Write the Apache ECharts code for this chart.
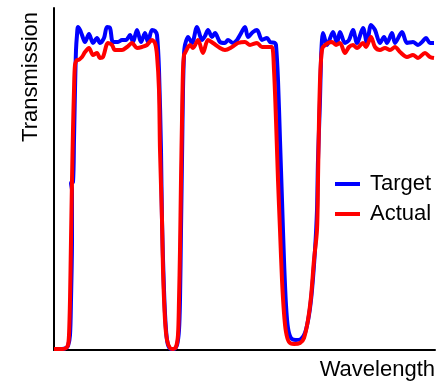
<!DOCTYPE html>
<html>
<head>
<meta charset="utf-8">
<script src="https://cdn.jsdelivr.net/npm/echarts@6/dist/echarts.min.js"></script>
<style>html,body{margin:0;padding:0;background:#fff}#c{width:443px;height:383px}</style>
</head>
<body>
<div id="c"></div>
<script>
// Wavelength / transmission in arbitrary units
var targetWavelength = [0,8,12,14,16,17,18,18,17,19,20,21,22,23,24,26,28,31,35,39,43,46,50,53,56,59,64,68,72,76,79,83,87,91,94,98,101,
  103,105,107,108,110,112,114,117,120,123,125,126,127,128,129,130,131,
  134,138,143,148,151,154,158,161,166,171,174,179,183,186,191,194,199,203,208,213,216,221,
  222,224,226,228,230,232,234,237,242,247,251,255,258,261,263,264,266,267,268,
  269,273,279,283,286,291,295,299,303,309,313,317,321,326,330,333,338,341,348,353,359,364,368,372,376,380];
var targetTransmission = [1,1,2,4,15,50,110,160,167,168,210,260,300,315,323,320,315,308,316,307,312,307,312,323,322,308,308,310,310,315,308,320,308,317,308,320,319,
  315,280,200,130,60,20,5,1,1,5,20,50,120,190,260,295,305,
  313,307,323,310,314,320,313,317,308,307,310,307,310,315,323,313,318,320,310,312,308,307,
  305,270,210,150,90,45,22,12,10,11,17,35,60,100,140,190,250,290,310,
  317,305,318,307,318,307,310,320,307,322,307,325,320,307,313,307,317,307,318,307,308,305,308,312,307,307];

var actualWavelength = [0,9,12,14,15,16,17,18,19,20,21,23,24,28,31,35,39,43,46,49,54,58,61,68,73,78,83,88,93,98,101,
  103,105,106,108,109,111,113,116,119,122,124,125,126,127,128,129,130,131,
  136,139,144,149,154,159,166,171,178,184,191,196,203,208,215,218,
  220,222,224,226,228,230,232,235,240,246,250,254,257,260,263,264,265,266,267,268,269,
  274,278,282,286,291,295,299,303,309,312,317,321,326,331,336,341,346,353,359,364,371,376,380];
var actualTransmission = [1,1,2,5,15,50,110,170,220,260,285,290,290,293,298,302,295,297,292,293,307,305,300,300,303,307,302,303,305,310,307,
  295,260,200,130,80,30,10,2,1,3,15,50,100,170,230,280,295,297,
  305,302,310,297,310,307,302,300,303,307,308,305,307,303,303,303,
  280,230,170,120,70,37,18,8,6,7,12,30,53,90,120,170,230,270,290,300,303,
  307,308,305,307,297,303,305,302,307,303,313,303,300,302,300,303,298,293,295,292,297,293,292];

var seriesNames = ['Target', 'Actual'];

function pairs(xs, ys) { return xs.map(function (x, i) { return [x, ys[i]]; }); }

var chart = echarts.init(document.getElementById('c'), null, {renderer: 'canvas'});
var FONT = '"Liberation Sans", Arial, sans-serif';
chart.setOption({
  animation: false,
  grid: {left: 54, right: 8, top: 8, bottom: 33},
  xAxis: {
    type: 'value', min: 0, max: 381,
    axisLine: {show: true, onZero: false, lineStyle: {color: '#000', width: 2}},
    axisTick: {show: false}, axisLabel: {show: false}, splitLine: {show: false}
  },
  yAxis: {
    type: 'value', min: 0, max: 342,
    axisLine: {show: true, onZero: false, lineStyle: {color: '#000', width: 2}},
    axisTick: {show: false}, axisLabel: {show: false}, splitLine: {show: false}
  },
  legend: {
    data: seriesNames, orient: 'vertical', left: 330, top: 168,
    icon: 'rect', itemWidth: 25, itemHeight: 4, itemGap: 8,
    textStyle: {fontSize: 22, color: '#000', fontFamily: FONT, padding: [0, 0, 0, 5]}
  },
  graphic: [
    {type: 'text', x: 31, y: 77, rotation: Math.PI / 2,
     style: {text: 'Transmission', font: '22px ' + FONT, fill: '#000', align: 'center', verticalAlign: 'middle'}},
    {type: 'text', x: 435, y: 370,
     style: {text: 'Wavelength', font: '22px ' + FONT, fill: '#000', align: 'right', verticalAlign: 'middle'}}
  ],
  series: [
    {name: seriesNames[0], type: 'line', data: pairs(targetWavelength, targetTransmission),
     showSymbol: false, symbol: 'none', smooth: 0.3, color: '#0000ff', lineStyle: {color: '#0000ff', width: 4}, z: 2},
    {name: seriesNames[1], type: 'line', data: pairs(actualWavelength, actualTransmission),
     showSymbol: false, symbol: 'none', smooth: 0.3, color: '#ff0000', lineStyle: {color: '#ff0000', width: 4}, z: 3}
  ]
});
</script>
</body>
</html>
